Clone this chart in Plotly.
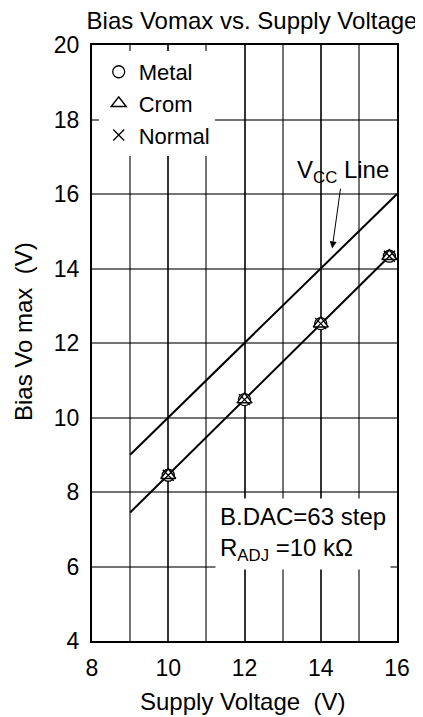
import plotly.graph_objects as go

# ---- data ----
supply_v = [10, 12, 14, 15.8]
metal = [8.45, 10.48, 12.52, 14.33]
crom = [8.45, 10.48, 12.52, 14.33]
normal = [8.45, 10.48, 12.52, 14.33]
fit_x = [9, 15.8]
fit_y = [7.45, 14.33]
vcc_x = [9, 16]
vcc_y = [9, 16]
x_ticks = [8, 10, 12, 14, 16]
y_ticks = [4, 6, 8, 10, 12, 14, 16, 18, 20]

FONT = "Liberation Sans, Arial, sans-serif"
FS = 24
FT = 23

# page body has an 8px margin, so the figure is laid out in a 415x709 box
W, H = 415, 709
ML, MT, MR, MB = 83.5, 37, 26.3, 76

fig = go.Figure()
fig.add_trace(go.Scatter(x=fit_x, y=fit_y, mode="lines",
                         line=dict(color="black", width=2), showlegend=False, hoverinfo="skip"))
fig.add_trace(go.Scatter(x=vcc_x, y=vcc_y, mode="lines",
                         line=dict(color="black", width=2), showlegend=False, hoverinfo="skip"))
fig.add_trace(go.Scatter(x=supply_v, y=metal, mode="markers", name="Metal",
                         marker=dict(symbol="circle", size=12, color="white",
                                     line=dict(color="black", width=1.3))))
fig.add_trace(go.Scatter(x=supply_v, y=crom, mode="markers", name="Crom",
                         marker=dict(symbol="triangle-up", size=13, color="white",
                                     line=dict(color="black", width=1.5))))
fig.add_trace(go.Scatter(x=supply_v, y=normal, mode="markers", name="Normal",
                         marker=dict(symbol="x-thin-open", size=11, color="black",
                                     line=dict(color="black", width=1.3))))

grid = "rgba(0,0,0,0.55)"
fig.update_xaxes(range=[8, 16], tickvals=x_ticks, showgrid=True, gridcolor=grid, gridwidth=1.6,
                 minor=dict(dtick=1, tick0=8, showgrid=True, gridcolor=grid, gridwidth=1.6),
                 showline=True, mirror=True, linecolor="black", linewidth=2,
                 zeroline=False, ticks="", ticklabelstandoff=5, automargin=False,
                 tickfont=dict(family=FONT, size=FT, color="black"))
fig.update_yaxes(range=[4, 20], tickvals=y_ticks, showgrid=True, gridcolor=grid, gridwidth=1.6,
                 showline=True, mirror=True, linecolor="black", linewidth=2,
                 zeroline=False, ticks="", ticklabelstandoff=6, automargin=False,
                 tickfont=dict(family=FONT, size=FT, color="black"))

pw = W - ML - MR
ph = H - MT - MB
# axis titles
fig.add_annotation(xref="paper", yref="paper", x=(242.5 - 8 - ML) / pw, y=-(701.7 - 8 - (H - MB)) / ph,
                   text="Supply Voltage\u00a0\u00a0(V)", showarrow=False, xanchor="center", yanchor="middle",
                   font=dict(family=FONT, size=FS, color="black"))
fig.add_annotation(xref="paper", yref="paper", x=(23 - 8 - ML) / pw, y=((H - MB) - (331.5 - 8)) / ph,
                   text="Bias Vo max\u00a0\u00a0(V)", showarrow=False, textangle=-90,
                   xanchor="center", yanchor="middle",
                   font=dict(family=FONT, size=FS, color="black"))

fig.add_annotation(x=14.3, y=14.54, ax=14.58, ay=16.6, xref="x", yref="y", axref="x", ayref="y",
                   text="V<sub>CC</sub> Line", showarrow=True, arrowhead=2, arrowsize=1.4,
                   arrowwidth=1, arrowcolor="black", standoff=0,
                   font=dict(family=FONT, size=FS, color="black"))
fig.add_annotation(x=11.22, y=6.88, xref="x", yref="y", xanchor="left", yanchor="middle",
                   text="B.DAC=63 step<br>R<sub>ADJ</sub> =10 k\u03a9", showarrow=False, align="left",
                   bgcolor="white", borderpad=4,
                   font=dict(family=FONT, size=FS, color="black"))

fig.update_layout(
    width=W, height=H,
    margin=dict(l=ML, r=MR, t=MT, b=MB),
    paper_bgcolor="white", plot_bgcolor="white",
    font=dict(family=FONT, size=FS, color="black"),
    title=dict(text="Bias Vomax vs. Supply Voltage", x=(252 - 8) / W, xanchor="center",
               y=1 - 13 / H, yanchor="middle", font=dict(family=FONT, size=24, color="black")),
    legend=dict(x=0.022, y=0.99, xanchor="left", yanchor="top", bgcolor="white",
                font=dict(family=FONT, size=22, color="black"), borderwidth=0,
                itemwidth=30, tracegroupgap=0),
    showlegend=True,
)

fig.write_html("out.html")
